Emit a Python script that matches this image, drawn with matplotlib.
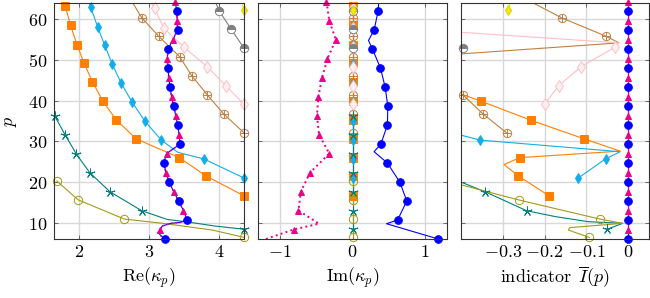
import numpy as np
import matplotlib
matplotlib.use('Agg')
import matplotlib.pyplot as plt

plt.rcParams['mathtext.fontset'] = 'cm'
plt.rcParams['font.family'] = ['DejaVu Serif']
plt.rcParams['font.size'] = 12

nan = np.nan

# ---------------- data ----------------
# blue filled circles
p_blue = [6, 10.67, 15.33, 20, 24.67, 29.33, 34, 38.67, 43.33, 48, 52.67, 57.33, 62]
re_blue = [3.23, 3.54, 3.42, 3.285, 3.21, 3.44, 3.405, 3.35, 3.30, 3.27, 3.27, 3.405, 3.396]
im_blue = [1.18, 0.62, 0.747, 0.65, 0.48, 0.39, 0.48, 0.486, 0.449, 0.385, 0.275, 0.297, 0.352]
ind_blue = [0] * 13
# magenta triangles
p_mag = [8.33, 13, 17.67, 22.33, 27, 31.67, 36.33, 41, 45.67, 50.33, 55, 59.67, 64.33]
re_mag = [3.155, 3.49, 3.35, 3.24, 3.25, 3.43, 3.38, 3.32, 3.28, 3.26, 3.34, 3.40, 3.37]
im_mag = [-0.81, -0.743, -0.71, -0.583, -0.32, -0.46, -0.49, -0.468, -0.42, -0.344, -0.23, -0.32, -0.358]
ind_mag = [0] * 13
# shared real-part curve of the blue / magenta pair
p_pair_re = [6, 6.8, 7.6, 8.33, 9.2, 9.85, 10.1, 10.67, 13, 15.33, 17.67, 20, 22.33, 24.67,
             27, 29.33, 31.67, 34, 36.33, 38.67, 41, 43.33, 45.67, 48, 50.33, 52.67, 55,
             57.33, 59.67, 62, 64.33]
re_pair = [3.23, 3.17, 3.13, 3.155, 3.19, 3.31, 3.45, 3.54, 3.49, 3.42, 3.35, 3.285, 3.24, 3.21,
           3.25, 3.44, 3.43, 3.405, 3.38, 3.35, 3.32, 3.30, 3.28, 3.27, 3.26, 3.27, 3.34,
           3.405, 3.40, 3.396, 3.37]
p_blue_im_line = [6, 9.76, 10.67, 15.33, 20, 24.67, 27.45, 29.33, 34, 38.67, 43.33, 48, 52.67,
                  54.8, 57.33, 62, 64]
im_blue_line = [1.18, 0.467, 0.62, 0.747, 0.65, 0.48, 0.297, 0.39, 0.48, 0.486, 0.449, 0.385,
                0.275, 0.22, 0.297, 0.352, 0.36]
p_mag_im_line = [6, 8.33, 9.76, 13, 17.67, 22.33, 27, 31.67, 36.33, 41, 45.67, 50.33, 55, 59.67, 64.33]
im_mag_line = [-1.19, -0.81, -0.46, -0.743, -0.71, -0.583, -0.32, -0.46, -0.49, -0.468, -0.42,
               -0.344, -0.23, -0.32, -0.358]

# orange squares
p_orange = [16.6, 21.5, 26, 30.6, 35.2, 39.9, 44.6, 49.2, 53.8, 58.5, 63.2]
re_orange = [4.35, 3.81, 3.43, 2.82, 2.537, 2.345, 2.197, 2.077, 1.976, 1.885, 1.81]
ind_orange = [-0.189, -0.263, -0.259, -0.105, -0.233, -0.353, nan, nan, nan, nan, nan]
p_orange_re_line = p_orange + [64]
re_orange_line = re_orange + [1.79]
p_orange_ind_line = [16.6, 21.5, 24.3, 26, 27.6, 30.6, 35.2, 39.9, 44.6, 49.2]
ind_orange_line = [-0.189, -0.263, -0.297, -0.259, -0.019, -0.105, -0.233, -0.353, -0.48, -0.6]

# cyan diamonds
p_cyan = [21, 25.7, 30.3, 35, 39.7, 44.3, 48.9, 53.6, 58.2, 62.9]
re_cyan = [4.35, 3.775, 3.175, 2.94, 2.758, 2.604, 2.48, 2.37, 2.269, 2.173]
ind_cyan = [-0.119, -0.054, -0.354, nan, nan, nan, nan, nan, nan, nan]
p_cyan_re_line = [21, 25.7, 27.3, 30.3, 35, 39.7, 44.3, 48.9, 53.6, 58.2, 62.9, 64]
re_cyan_line = [4.35, 3.775, 3.41, 3.175, 2.94, 2.758, 2.604, 2.48, 2.37, 2.269, 2.173, 2.15]
p_cyan_ind_line = [21, 25.7, 27.45, 30.3, 35]
ind_cyan_line = [-0.119, -0.054, -0.019, -0.354, -0.53]

# brown circled plus
p_brown = [32.1, 36.75, 41.4, 46.05, 50.7, 55.8, 60.3]
re_brown = [4.35, 4.06, 3.83, 3.61, 3.44, 3.14, 2.90]
ind_brown = [-0.291, -0.3475, -0.395, nan, nan, -0.052, -0.158]
p_brown_re_line = p_brown + [64]
re_brown_line = re_brown + [2.77]
p_brown_ind_line = [32.1, 36.75, 41.4, 46.05, 50.7, 54.2, 55.8, 60.3, 64]
ind_brown_line = [-0.291, -0.3475, -0.395, -0.6, -0.51, -0.022, -0.052, -0.158, -0.227]

# pink open diamonds
p_pink = [39.1, 43.7, 48.3, 53.1, 57.8, 62.7]
re_pink = [4.35, 4.09, 3.83, 3.50, 3.21, 3.08]
ind_pink = [-0.2, -0.166, -0.113, -0.032, nan, nan]
p_pink_re_line = p_pink + [64]
re_pink_line = re_pink + [3.03]
p_pink_ind_line = [39.1, 43.7, 48.3, 53.1, 54.2, 57.8, 62.7]
ind_pink_line = [-0.2, -0.166, -0.113, -0.032, -0.022, -0.546, -0.7]

# gray half circles
p_gray = [52.9, 57.5, 62]
re_gray = [4.35, 4.17, 4.0]
ind_gray = [-0.395, nan, nan]
p_gray_re_line = p_gray + [64]
re_gray_line = re_gray + [3.95]

# yellow diamond
p_yellow = [62.2]
re_yellow = [4.35]
ind_yellow = [-0.287]
p_yellow_line = [62.2, 64]
re_yellow_line = [4.35, 4.32]
ind_yellow_line = [-0.287, -0.283]

# teal stars
p_teal = [8.4, 12.95, 17.6, 22.3, 26.9, 31.55, 36.2]
re_teal = [4.35, 2.897, 2.446, 2.158, 1.967, 1.81, 1.66]
ind_teal = [-0.05, -0.243, -0.342, nan, nan, nan, nan]
p_teal_re_line = [8.4, 9.2, 10.25, 10.8, 12.95, 17.6, 22.3, 26.9, 31.55, 36.2]
re_teal_line = [4.35, 3.93, 3.525, 3.26, 2.897, 2.446, 2.158, 1.967, 1.81, 1.66]
p_teal_ind_line = [8.4, 9.85, 10.25, 11.5, 12.95, 17.6, 22.3]
ind_teal_line = [-0.05, -0.013, -0.095, -0.174, -0.243, -0.342, -0.456]

# olive open circles
p_olive = [6.4, 10.9, 15.6, 20.25]
re_olive = [4.35, 2.65, 1.995, 1.69]
ind_olive = [-0.093, -0.068, -0.262, nan]
p_olive_re_line = [6.4, 8.2, 9.85, 10.9, 15.6, 20.25]
re_olive_line = [4.35, 3.9, 3.2, 2.65, 1.995, 1.69]
p_olive_ind_line = [6.4, 8.2, 8.8, 9.85, 10.9, 15.6, 20.25]
ind_olive_line = [-0.093, -0.143, -0.139, -0.013, -0.068, -0.262, -0.435]

# axes / ticks
ylim = (6, 64)
xlims = [(1.65, 4.35), (-1.3, 1.3), (-0.4, 0.05)]
yticks = [10, 20, 30, 40, 50, 60]
xticks = [[2, 3, 4], [-1, 0, 1], [-0.3, -0.2, -0.1, 0]]
xticklabels = [['2', '3', '4'], ['\u22121', '0', '1'], ['\u22120.3', '\u22120.2', '\u22120.1', '0']]
xlabels = [r'$\mathrm{Re}(\kappa_p)$', r'$\mathrm{Im}(\kappa_p)$', r'$\mathrm{indicator}\ \,\overline{I}(p)$']

# ---------------- figure ----------------
W, H = 650, 298
fig = plt.figure(figsize=(W / 100, H / 100), dpi=100)
boxes = [(54, 244), (258, 447), (461, 649)]
top, bot = 3, 239
axes = []
for (l, r) in boxes:
    ax = fig.add_axes([l / W, 1 - bot / H, (r - l) / W, (bot - top) / H])
    axes.append(ax)

C_ORANGE = '#FF8000'
C_CYAN = '#12AEEA'
C_BROWN = '#BF8040'
C_PINK = '#FFBFC8'
C_GRAY = '#808080'
C_YELLOW = '#F2EC00'
C_TEAL = '#008080'
C_OLIVE = '#A39A1C'
C_BLUE = '#0000FF'
C_MAG = '#EC008C'

styles = {
    'orange': dict(color=C_ORANGE, marker='s', ms=5.2, mfc=C_ORANGE, mec=C_ORANGE),
    'cyan': dict(color=C_CYAN, marker='d', ms=5.5, mfc=C_CYAN, mec=C_CYAN),
    'brown': dict(color=C_BROWN, marker='o', ms=6, mfc='none', mec=C_BROWN),
    'pink': dict(color=C_PINK, marker='d', ms=6, mfc='#FFF0F0', mec=C_PINK),
    'gray': dict(color=C_GRAY, marker='o', ms=6, mfc=C_GRAY, mec=C_GRAY, fillstyle='top',
                 markerfacecoloralt='white'),
    'yellow': dict(color=C_YELLOW, marker='d', ms=5.5, mfc=C_YELLOW, mec='#E0D000'),
    'teal': dict(color=C_TEAL, marker=(5, 2, 0), ms=7, mfc=C_TEAL, mec=C_TEAL),
    'olive': dict(color=C_OLIVE, marker='o', ms=6, mfc='none', mec=C_OLIVE),
    'blue': dict(color=C_BLUE, marker='o', ms=5.5, mfc=C_BLUE, mec=C_BLUE),
    'mag': dict(color=C_MAG, marker='^', ms=5, mfc=C_MAG, mec=C_MAG),
}


def draw(ax, k, pl, xl, pm, xm, lim, ls='-', lw=0.8):
    st = dict(styles[k])
    col = st.pop('color')
    ax.plot(xl, pl, color=col, lw=lw, ls=ls, zorder=3, clip_on=True)
    pm = np.asarray(pm, float)
    xm = np.asarray(xm, float)
    ok = (~np.isnan(xm)) & (xm >= lim[0] - 0.02 * (lim[1] - lim[0])) & \
         (xm <= lim[1] + 0.02 * (lim[1] - lim[0])) & (pm <= ylim[1] + 1)
    ax.plot(xm[ok], pm[ok], ls='none', mew=0.7, zorder=4, clip_on=False, **st)
    if k == 'brown':
        ax.plot(xm[ok], pm[ok], ls='none', marker='+', ms=6, mew=0.7, color=col,
                zorder=4, clip_on=False)


ax1, ax2, ax3 = axes
L1, L2, L3 = xlims

# Re panel
draw(ax1, 'orange', p_orange_re_line, re_orange_line, p_orange, re_orange, L1)
draw(ax1, 'cyan', p_cyan_re_line, re_cyan_line, p_cyan, re_cyan, L1)
draw(ax1, 'brown', p_brown_re_line, re_brown_line, p_brown, re_brown, L1)
draw(ax1, 'pink', p_pink_re_line, re_pink_line, p_pink, re_pink, L1)
draw(ax1, 'gray', p_gray_re_line, re_gray_line, p_gray, re_gray, L1)
draw(ax1, 'yellow', p_yellow_line, re_yellow_line, p_yellow, re_yellow, L1)
draw(ax1, 'teal', p_teal_re_line, re_teal_line, p_teal, re_teal, L1)
draw(ax1, 'olive', p_olive_re_line, re_olive_line, p_olive, re_olive, L1)
draw(ax1, 'blue', p_pair_re, re_pair, p_blue, re_blue, L1)
draw(ax1, 'mag', p_pair_re, re_pair, p_mag, re_mag, L1, ls=':', lw=1.2)

# Im panel (real eigenvalues -> zero imaginary part)
for k, pl, pm in [('orange', p_orange_re_line, p_orange), ('cyan', p_cyan_re_line, p_cyan),
                  ('brown', p_brown_re_line, p_brown), ('pink', p_pink_re_line, p_pink),
                  ('gray', p_gray_re_line, p_gray), ('yellow', p_yellow_line, p_yellow),
                  ('teal', p_teal_re_line, p_teal), ('olive', p_olive_re_line, p_olive)]:
    draw(ax2, k, pl, np.zeros(len(pl)), pm, np.zeros(len(pm)), L2)
draw(ax2, 'blue', p_blue_im_line, im_blue_line, p_blue, im_blue, L2)
draw(ax2, 'mag', p_mag_im_line, im_mag_line, p_mag, im_mag, L2, ls=':', lw=1.4)

# indicator panel
draw(ax3, 'orange', p_orange_ind_line, ind_orange_line, p_orange, ind_orange, L3)
draw(ax3, 'cyan', p_cyan_ind_line, ind_cyan_line, p_cyan, ind_cyan, L3)
draw(ax3, 'brown', p_brown_ind_line, ind_brown_line, p_brown, ind_brown, L3)
draw(ax3, 'pink', p_pink_ind_line, ind_pink_line, p_pink, ind_pink, L3)
draw(ax3, 'gray', [], [], p_gray, ind_gray, L3)
draw(ax3, 'yellow', p_yellow_line, ind_yellow_line, p_yellow, ind_yellow, L3)
draw(ax3, 'teal', p_teal_ind_line, ind_teal_line, p_teal, ind_teal, L3)
draw(ax3, 'olive', p_olive_ind_line, ind_olive_line, p_olive, ind_olive, L3)
draw(ax3, 'blue', p_blue + [64], ind_blue + [0], p_blue, ind_blue, L3)
draw(ax3, 'mag', p_mag, ind_mag, p_mag, ind_mag, L3)

FS = 13
for i, ax in enumerate(axes):
    ax.set_xlim(*xlims[i])
    ax.set_ylim(*ylim)
    ax.set_xticks(xticks[i])
    ax.set_xticklabels(['$' + t.replace('\u2212', '-') + '$' for t in xticklabels[i]])
    ax.set_yticks(yticks)
    if i == 0:
        ax.set_yticklabels(['$%d$' % v for v in yticks])
    else:
        ax.set_yticklabels([])
    ax.grid(True, color='#D8D8D8', lw=1.0, zorder=0)
    ax.set_axisbelow(True)
    ax.tick_params(direction='in', length=3, width=0.6, color='#555555', top=True, right=True,
                   labelsize=FS, pad=3)
    ax.tick_params(axis='y', pad=5)
    for s in ax.spines.values():
        s.set_color('#333333')
        s.set_linewidth(0.8)
        s.set_zorder(5)
    ax.set_xlabel(xlabels[i], fontsize=FS)
    ax.xaxis.label.set_va('center')
    ax.xaxis.set_label_coords(0.5, -0.163)

ax1.set_ylabel('$p$', fontsize=FS)
ax1.yaxis.label.set_va('center')
ax1.yaxis.set_label_coords(-0.23, 0.5)

fig.savefig('out.png', dpi=100)
